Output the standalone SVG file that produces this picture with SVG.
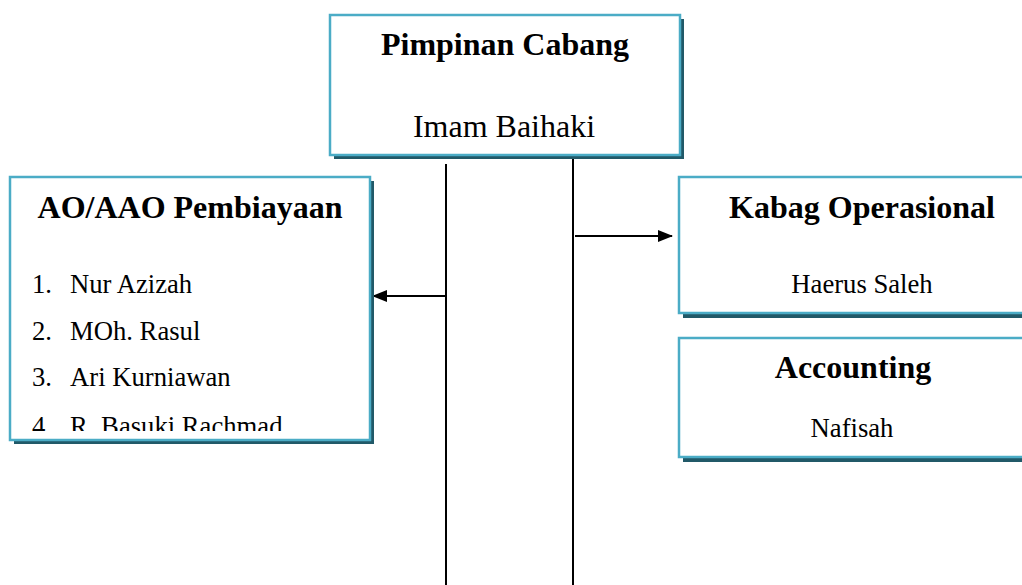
<svg xmlns="http://www.w3.org/2000/svg" width="1022" height="585" viewBox="0 0 1022 585">
<style>
.box{fill:#ffffff;stroke:#4bacc6;stroke-width:2.5}
.shadow{fill:#215968}
.t{font-family:"Liberation Serif","Times New Roman",serif;fill:#000}
.h{font-size:32px;font-weight:bold}
.n{font-size:26.67px}
.big{font-size:32px}
.line{stroke:#000;stroke-width:2;fill:none}
</style>
<defs>
<marker id="ah" markerWidth="15" markerHeight="12" refX="14" refY="6" orient="auto" markerUnits="userSpaceOnUse">
<path d="M0,0 L15,6 L0,12 Z" fill="#000"/>
</marker>
<clipPath id="clipL"><rect x="10" y="177" width="360" height="254"/></clipPath>
</defs>
<g id="connectors">
<line class="line" x1="446" y1="164" x2="446" y2="585"/>
<line class="line" x1="573" y1="154" x2="573" y2="585"/>
<line class="line" x1="446" y1="296" x2="373" y2="296" marker-end="url(#ah)"/>
<line class="line" x1="575" y1="236" x2="672" y2="236" marker-end="url(#ah)"/>
</g>
<g id="pimpinan">
<rect class="shadow" x="334" y="19" width="350" height="140"/>
<rect class="box" x="330" y="15" width="350" height="140"/>
<text class="t h" x="505" y="55" text-anchor="middle">Pimpinan Cabang</text>
<text class="t big" x="504" y="137" text-anchor="middle">Imam Baihaki</text>
</g>
<g id="ao">
<rect class="shadow" x="14" y="181" width="360" height="263"/>
<rect class="box" x="10" y="177" width="360" height="263"/>
<text class="t h" x="190" y="218" text-anchor="middle">AO/AAO Pembiayaan</text>
<g clip-path="url(#clipL)">
<text class="t n" x="32" y="293">1.</text><text class="t n" x="70" y="293">Nur Azizah</text>
<text class="t n" x="32" y="340">2.</text><text class="t n" x="70" y="340">MOh. Rasul</text>
<text class="t n" x="32" y="386">3.</text><text class="t n" x="70" y="386">Ari Kurniawan</text>
<text class="t n" x="32" y="435">4.</text><text class="t n" x="70" y="435">R. Basuki Rachmad</text>
</g>
</g>
<g id="kabag">
<rect class="shadow" x="683" y="181" width="370" height="137"/>
<rect class="box" x="679" y="177" width="370" height="136"/>
<text class="t h" x="862" y="218" text-anchor="middle">Kabag Operasional</text>
<text class="t n" x="862" y="293" text-anchor="middle">Haerus Saleh</text>
</g>
<g id="accounting">
<rect class="shadow" x="683" y="342" width="370" height="120"/>
<rect class="box" x="679" y="338" width="370" height="119"/>
<text class="t h" x="853" y="378" text-anchor="middle">Accounting</text>
<text class="t n" x="852" y="437" text-anchor="middle">Nafisah</text>
</g>
</svg>
